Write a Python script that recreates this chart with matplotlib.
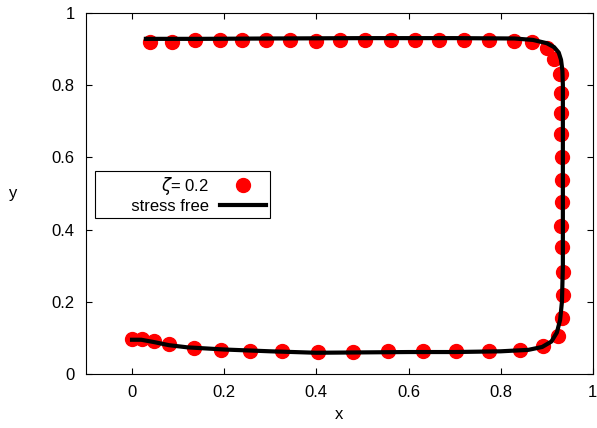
import matplotlib.pyplot as plt
import numpy as np

plt.rcParams['font.family'] = ['Liberation Sans', 'DejaVu Sans']

# zeta = 0.2 simulation points (bottom edge -> right edge -> top edge)
zeta_x = [0.0, 0.022, 0.048, 0.081, 0.135, 0.193, 0.255, 0.325, 0.403, 0.480,
          0.555, 0.632, 0.704, 0.775, 0.841, 0.891, 0.925,
          0.934, 0.935, 0.935, 0.933, 0.932, 0.933, 0.933, 0.933, 0.932,
          0.932, 0.930, 0.930, 0.928,
          0.915, 0.900, 0.869, 0.828, 0.775, 0.720, 0.667, 0.613, 0.561,
          0.505, 0.451, 0.399, 0.343, 0.291, 0.239, 0.190, 0.137, 0.087, 0.038]
zeta_y = [0.097, 0.097, 0.091, 0.082, 0.073, 0.068, 0.065, 0.064, 0.060, 0.060,
          0.064, 0.064, 0.064, 0.065, 0.068, 0.078, 0.105,
          0.156, 0.219, 0.283, 0.351, 0.411, 0.477, 0.537, 0.602, 0.664,
          0.724, 0.778, 0.831, 0.831,
          0.872, 0.902, 0.918, 0.923, 0.925, 0.925, 0.925, 0.925, 0.925,
          0.925, 0.925, 0.923, 0.925, 0.925, 0.925, 0.925, 0.925, 0.920, 0.920]

# stress free curve
sf_x = [0.0, 0.02, 0.05, 0.08, 0.12, 0.2, 0.3, 0.4, 0.5, 0.6, 0.7, 0.8, 0.86,
        0.89, 0.91, 0.922, 0.929, 0.933, 0.935, 0.935, 0.935, 0.935, 0.934,
        0.931, 0.926, 0.916, 0.9, 0.87, 0.83, 0.7, 0.5, 0.3, 0.15, 0.03]
sf_y = [0.095, 0.095, 0.088, 0.080, 0.074, 0.068, 0.063, 0.059, 0.060, 0.061,
        0.061, 0.063, 0.067, 0.075, 0.090, 0.115, 0.150, 0.200, 0.300, 0.500,
        0.700, 0.800, 0.840, 0.870, 0.890, 0.905, 0.916, 0.925, 0.929, 0.930,
        0.930, 0.929, 0.928, 0.928]

fig = plt.figure(figsize=(5.97, 4.28), dpi=100)
ax = fig.add_axes([0.144, 0.126, 0.849, 0.844])

ax.plot(zeta_x, zeta_y, 'o', color='#ff0000', markersize=10, label=r'$\zeta$= 0.2')
# leading spaces widen the key box like gnuplot's
ax.plot(sf_x, sf_y, '-', color='black', linewidth=3, label='       stress free')

ax.set_xlim(-0.1, 1.0)
ax.set_ylim(0, 1)
ax.set_xticks([0, 0.2, 0.4, 0.6, 0.8, 1])
ax.set_xticklabels(['0', '0.2', '0.4', '0.6', '0.8', '1'])
ax.set_yticks([0, 0.2, 0.4, 0.6, 0.8, 1])
ax.set_yticklabels(['0', '0.2', '0.4', '0.6', '0.8', '1'])
ax.tick_params(direction='in', top=True, right=True, length=4.5, width=0.8,
               labelsize=12, pad=8)
ax.set_xlabel('x', fontsize=12, labelpad=5)
ax.set_ylabel('y', fontsize=12, rotation=0, labelpad=28, va='center')

leg = ax.legend(loc='upper left', bbox_to_anchor=(0.018, 0.562), markerfirst=False,
                fontsize=12, fancybox=False, edgecolor='black', framealpha=1,
                borderpad=0.25, labelspacing=0.1, handlelength=2.75,
                handletextpad=0.65, borderaxespad=0)
leg.get_frame().set_linewidth(0.8)
for t in leg.get_texts():
    t.set_ha('right')

fig.savefig('out.png', dpi=100)
